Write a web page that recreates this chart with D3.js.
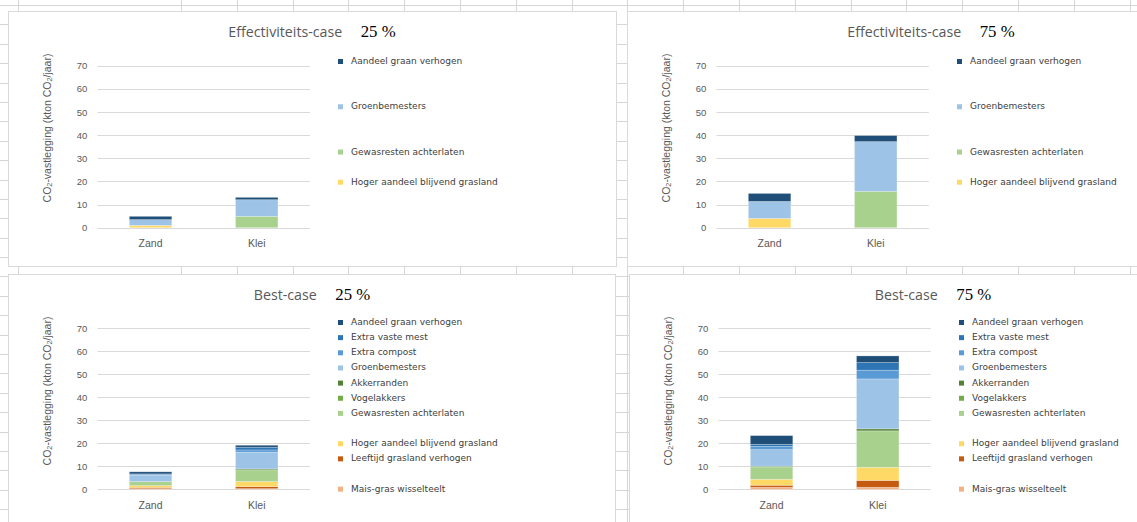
<!DOCTYPE html>
<html><head><meta charset="utf-8">
<script src="https://cdn.jsdelivr.net/npm/d3@7"></script>
<style>body{margin:0;background:#fff}svg{display:block}</style>
</head><body><svg id="c" width="1137" height="522"></svg>
<script>
// ---------------- DATA ----------------
const categories = ["Zand", "Klei"];
// series in stacking order (bottom -> top)
const seriesNames = ["Mais-gras wisselteelt", "Leeftijd grasland verhogen", "Hoger aandeel blijvend grasland",
  "Gewasresten achterlaten", "Vogelakkers", "Akkerranden", "Groenbemesters", "Extra compost",
  "Extra vaste mest", "Aandeel graan verhogen"];
const seriesColors = ["#f4b183", "#c55a11", "#ffd966", "#a9d18e", "#70ad47", "#548235", "#9dc3e6",
  "#5b9bd5", "#2e75b6", "#1f4e79"];
// values per category, in series order (kton CO2/jaar)
const eff25Zand = [0, 0, 1.0, 0, 0, 0, 2.5, 0, 0, 1.4];
const eff25Klei = [0, 0, 0, 4.9, 0, 0, 7.2, 0, 0, 1.0];
const eff75Zand = [0, 0, 4.0, 0, 0, 0, 7.35, 0, 0, 3.45];
const eff75Klei = [0, 0, 0, 15.7, 0, 0, 21.5, 0, 0, 2.6];
const best25Zand = [0.3, 0.5, 0.8, 1.7, 0, 0.1, 2.7, 0.3, 0.3, 0.9];
const best25Klei = [0.3, 0.87, 2.2, 5.1, 0, 0.4, 7.25, 1.0, 1.16, 0.87];
const best75Zand = [0.87, 0.87, 2.6, 5.4, 0, 0.3, 7.2, 1.4, 0.9, 3.8];
const best75Klei = [0.87, 3.0, 5.65, 15.9, 0, 0.87, 21.7, 3.8, 3.3, 2.9];
// legend entries shown (series indices)
const effLegend = [9, 6, 3, 2];
const bestLegend = [9, 8, 7, 6, 5, 4, 3, 2, 1, 0];
const yTicks = [0, 10, 20, 30, 40, 50, 60, 70];
const titles = ["Effectiviteits-case", "Effectiviteits-case", "Best-case", "Best-case"];
const pcts = ["25 %", "75 %", "25 %", "75 %"];
const yTitle = ["CO", "2", "-vastlegging (kton CO", "2", "/jaar)"];

// ---------------- HELPERS ----------------
const svg = d3.select("#c");
const meas = svg.append("text").attr("x", -1000).attr("y", -1000);
function measure(str, font, size) {
  meas.attr("font-family", font).attr("font-size", size).text(str);
  return meas.node().getComputedTextLength();
}
function fit(str, font, target) { return 20 * target / measure(str, font, 20); }

const titleFont = "'Open Sans', sans-serif";
const pctFont = "'Liberation Serif', serif";
const legFont = "'DejaVu Sans', sans-serif";
const axFont = "'Liberation Sans', Arial, sans-serif";
const titleSize = fit("Effectiviteits-case", titleFont, 114);
const pctSize = fit("25 %", pctFont, 35);
const legSize = fit("Hoger aandeel blijvend grasland", legFont, 147);
const gray = "#595959";

// ---------------- BACKGROUND SHEET GRID ----------------
const gridCol = "#d6d6d6";
const colX = [17.5];
for (let k = 0; k < 18; k++) colX.push(181 + k * 55.8);
const rowY = [];
for (let k = 0; k < 28; k++) rowY.push(4.9 + k * 19.4);
const bg = svg.append("g");
bg.selectAll("line.v").data(colX).join("line").attr("class", "v")
  .attr("x1", d => Math.round(d) + 0.5).attr("x2", d => Math.round(d) + 0.5)
  .attr("y1", 0).attr("y2", 522).attr("stroke", gridCol);
bg.selectAll("line.h").data(rowY).join("line").attr("class", "h")
  .attr("y1", d => Math.round(d) + 0.5).attr("y2", d => Math.round(d) + 0.5)
  .attr("x1", 0).attr("x2", 1137).attr("stroke", gridCol);

// ---------------- PANELS ----------------
const panels = [
  { x: 8, y: 11, w: 608, h: 255, zand: eff25Zand, klei: eff25Klei, legend: effLegend, yr: [216.7, 54.7], ly0: 50, ls: 15.09 },
  { x: 627, y: 11, w: 520, h: 255, zand: eff75Zand, klei: eff75Klei, legend: effLegend, yr: [216.7, 54.7], ly0: 50, ls: 15.09 },
  { x: 8, y: 274, w: 607, h: 270, zand: best25Zand, klei: best25Klei, legend: bestLegend, yr: [215.3, 54.3], ly0: 48, ls: 15.15 },
  { x: 629, y: 274, w: 520, h: 270, zand: best75Zand, klei: best75Klei, legend: bestLegend, yr: [215.3, 54.3], ly0: 48, ls: 15.15 }
];
const legendSlot = [11, 9, 8, 6, 5, 4, 3, 2, 1, 0];

panels.forEach((p, pi) => {
  const g = svg.append("g").attr("transform", `translate(${p.x},${p.y})`);
  g.append("rect").attr("x", 0.5).attr("y", 0.5).attr("width", p.w).attr("height", p.h)
    .attr("fill", "#fff").attr("stroke", "#d9d9d9");

  const x = d3.scaleBand().domain(categories).range([89.5, 301.8]).paddingInner(0.6).paddingOuter(0.3);
  const y = d3.scaleLinear().domain([0, 70]).range(p.yr);

  // gridlines
  g.append("g").selectAll("line").data(yTicks).join("line")
    .attr("x1", 89.5).attr("x2", 301.8)
    .attr("y1", d => Math.round(y(d)) + 0.5).attr("y2", d => Math.round(y(d)) + 0.5)
    .attr("stroke", "#d9d9d9").attr("stroke-width", 1);

  // y axis labels
  const ya = g.append("g").attr("transform", "translate(89.5,0)")
    .call(d3.axisLeft(y).tickValues(yTicks).tickSize(0).tickPadding(10.2).tickFormat(d3.format("d")));
  ya.select(".domain").remove();
  ya.selectAll("text").attr("font-family", axFont).attr("font-size", 9.5).attr("fill", gray);

  // x axis labels
  const xa = g.append("g").attr("transform", `translate(0,${p.yr[0]})`)
    .call(d3.axisBottom(x).tickSize(0).tickPadding(12));
  xa.select(".domain").remove();
  xa.selectAll("text").attr("font-family", axFont).attr("font-size", 10.5).attr("fill", gray);

  // stacked bars
  const rows = categories.map((c, i) => {
    const vals = i === 0 ? p.zand : p.klei;
    const o = { cat: c };
    vals.forEach((v, k) => o[k] = v);
    return o;
  });
  const stack = d3.stack().keys(d3.range(seriesNames.length))(rows);
  g.append("g").selectAll("g").data(stack).join("g").attr("fill", (d, k) => seriesColors[k])
    .selectAll("rect").data(d => d.filter(s => s[1] - s[0] > 0)).join("rect")
    .attr("x", d => x(d.data.cat)).attr("width", x.bandwidth())
    .attr("y", d => y(d[1])).attr("height", d => y(d[0]) - y(d[1]))
    .attr("stroke", "#ffffff").attr("stroke-opacity", 0.3).attr("stroke-width", 0.8);

  // title
  const t = g.append("text").attr("y", 20).attr("dominant-baseline", "central");
  t.append("tspan").attr("font-family", titleFont).attr("font-size", titleSize).attr("fill", gray).text(titles[pi]);
  t.append("tspan").attr("dx", 18.5).attr("font-family", pctFont).attr("font-size", pctSize).attr("fill", "#000").text(pcts[pi]);
  const tw = t.node().getComputedTextLength() + 18.5;
  t.attr("x", 304 - tw / 2);

  // y title
  const yt = g.append("text").attr("transform", "translate(38.5,117) rotate(-90)")
    .attr("text-anchor", "middle").attr("dominant-baseline", "central")
    .attr("font-family", axFont).attr("fill", gray).attr("font-size", 10);
  yTitle.forEach((s, k) => {
    const ts = yt.append("tspan").text(s);
    if (k % 2 === 1) ts.attr("font-size", 7).attr("dy", 2.5);
    else if (k > 0) ts.attr("dy", -2.5);
  });
  const ylen = yt.node().getComputedTextLength();
  yt.attr("font-size", 10 * 149 / ylen);
  yt.selectAll("tspan").filter((d, k) => k % 2 === 1).attr("font-size", 7 * 149 / ylen);

  // legend
  const lg = g.append("g").selectAll("g").data(p.legend).join("g")
    .attr("transform", k => `translate(0,${p.ly0 + legendSlot[k] * p.ls})`);
  lg.append("rect").attr("x", 330).attr("y", -2).attr("width", 5).attr("height", 5)
    .attr("fill", k => seriesColors[k]);
  lg.append("text").attr("x", 343).attr("dominant-baseline", "central")
    .attr("font-family", legFont).attr("font-size", legSize).attr("fill", "#404040")
    .text(k => seriesNames[k]);
});
meas.remove();
</script>
</body></html>
